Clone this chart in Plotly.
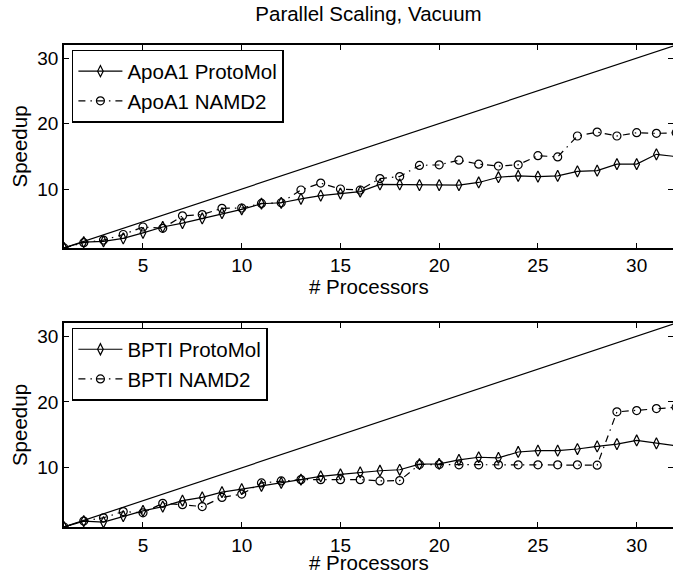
import plotly.graph_objects as go

processors = list(range(1, 33))
ideal = [1, 32]
ideal_x = [1, 32]

apoa1_protomol = [1, 1.9, 2.0, 2.45, 3.3, 4.2, 4.8, 5.5, 6.3, 6.9, 7.75, 7.9, 8.5, 9.0, 9.3, 9.6,
                  10.7, 10.7, 10.6, 10.6, 10.6, 11.0, 11.8, 12.0, 11.9, 12.0, 12.7, 12.8, 13.8, 13.8, 15.3, 14.95]
apoa1_namd2 = [1, 1.8, 2.2, 3.05, 4.2, 4.0, 5.9, 6.1, 7.05, 7.1, 7.8, 7.9, 9.85, 10.9, 10.0, 9.85,
               11.6, 11.9, 13.6, 13.7, 14.4, 13.8, 13.5, 13.7, 15.1, 14.9, 18.1, 18.7, 18.1, 18.6, 18.5, 18.6]
bpti_protomol = [1, 1.9, 1.73, 2.65, 3.45, 4.1, 5.0, 5.5, 6.3, 6.75, 7.25, 7.7, 8.2, 8.7, 9.0, 9.3,
                 9.55, 9.7, 10.55, 10.6, 11.2, 11.6, 11.5, 12.4, 12.6, 12.6, 12.85, 13.25, 13.6, 14.15, 13.7, 13.35]
bpti_namd2 = [1, 1.9, 2.4, 3.35, 3.15, 4.6, 4.4, 4.1, 5.5, 6.0, 7.7, 8.0, 8.2, 8.2, 8.2, 8.2,
              8.0, 8.05, 10.5, 10.5, 10.45, 10.45, 10.45, 10.45, 10.45, 10.45, 10.45, 10.4, 18.5, 18.7, 19.0, 19.2]

x_ticks = [5, 10, 15, 20, 25, 30]
y_ticks = [10, 20, 30]
x_title = "# Processors"
y_title = "Speedup"

FONT = "Liberation Sans, Arial, Helvetica, sans-serif"
DASH = "7px,5px,1.5px,5px"

fig = go.Figure()

# top panel
fig.add_trace(go.Scatter(x=ideal_x, y=ideal, mode="lines", line=dict(color="black", width=1.2),
                         showlegend=False, xaxis="x", yaxis="y", hoverinfo="skip"))
fig.add_trace(go.Scatter(x=processors, y=apoa1_protomol, mode="lines+markers", name="ApoA1 ProtoMol",
                         line=dict(color="black", width=1.2),
                         marker=dict(symbol="diamond-tall-open", size=8, color="black", line=dict(width=1.2)),
                         xaxis="x", yaxis="y", legend="legend", cliponaxis=True))
fig.add_trace(go.Scatter(x=processors, y=apoa1_namd2, mode="lines+markers", name="ApoA1 NAMD2",
                         line=dict(color="black", width=1.2, dash=DASH),
                         marker=dict(symbol="circle-open", size=8, color="black", line=dict(width=1.2)),
                         xaxis="x", yaxis="y", legend="legend", cliponaxis=True))

# bottom panel
fig.add_trace(go.Scatter(x=ideal_x, y=ideal, mode="lines", line=dict(color="black", width=1.2),
                         showlegend=False, xaxis="x2", yaxis="y2", hoverinfo="skip"))
fig.add_trace(go.Scatter(x=processors, y=bpti_protomol, mode="lines+markers", name="BPTI ProtoMol",
                         line=dict(color="black", width=1.2),
                         marker=dict(symbol="diamond-tall-open", size=8, color="black", line=dict(width=1.2)),
                         xaxis="x2", yaxis="y2", legend="legend2", cliponaxis=True))
fig.add_trace(go.Scatter(x=processors, y=bpti_namd2, mode="lines+markers", name="BPTI NAMD2",
                         line=dict(color="black", width=1.2, dash=DASH),
                         marker=dict(symbol="circle-open", size=8, color="black", line=dict(width=1.2)),
                         xaxis="x2", yaxis="y2", legend="legend2", cliponaxis=True))

xaxis_common = dict(range=[1, 31.84], tickvals=x_ticks, ticks="inside", ticklen=5, tickcolor="black",
                    showline=True, linecolor="black", linewidth=1.5, mirror="ticks", showgrid=False,
                    zeroline=False, automargin=False, tickfont=dict(size=19, color="black", family=FONT))
yaxis_common = dict(range=[1, 32], tickvals=y_ticks, ticks="inside", ticklen=5, tickcolor="black",
                    showline=True, linecolor="black", linewidth=1.5, mirror="ticks", showgrid=False,
                    zeroline=False, automargin=False, tickfont=dict(size=19, color="black", family=FONT),
                    title=dict(text=y_title, font=dict(size=20.5, color="black", family=FONT), standoff=4))

legend_common = dict(bgcolor="white", bordercolor="black", borderwidth=1.5,
                     font=dict(size=20.5, color="black", family=FONT),
                     xanchor="left", yanchor="top", tracegroupgap=0, itemwidth=44)

title_font = dict(size=20.5, color="black", family=FONT)

fig.update_layout(
    width=673, height=571,
    margin=dict(l=64, r=0, t=45, b=44),
    paper_bgcolor="white", plot_bgcolor="white",
    font=dict(family=FONT, color="black"),
    title=dict(text="Parallel Scaling, Vacuum", x=0.5, xref="paper", y=1 - 14 / 571, yanchor="middle",
               font=title_font),
    xaxis=dict(domain=[0, 1], anchor="y", **xaxis_common),
    yaxis=dict(domain=[0.579, 1], anchor="x", **yaxis_common),
    xaxis2=dict(domain=[0, 1], anchor="y2", **xaxis_common),
    yaxis2=dict(domain=[0, 0.4232], anchor="x2", **yaxis_common),
    legend=dict(x=0.013, y=0.99, **legend_common),
    legend2=dict(x=0.013, y=0.413, **legend_common),
    annotations=[
        dict(text=x_title, xref="paper", yref="paper", x=0.5, y=241 / 482, xanchor="center",
             yanchor="middle", showarrow=False, font=title_font),
        dict(text=x_title, xref="paper", yref="paper", x=0.5, y=-35 / 482, xanchor="center",
             yanchor="middle", showarrow=False, font=title_font),
    ],
)

fig.write_html("out.html", config={"displayModeBar": False},
               post_script="document.body.style.margin='0';document.body.style.overflow='hidden';")
